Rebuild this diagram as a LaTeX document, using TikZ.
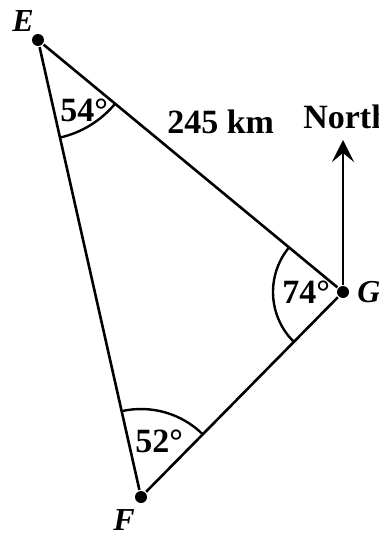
\documentclass[tikz,border=0pt]{standalone}
\usepackage{fontspec}
\setmainfont{Liberation Serif}
\usetikzlibrary{arrows.meta}
\begin{document}
\begin{tikzpicture}[x=1pt,y=-1pt, line width=2.6pt,
 lbl/.style={font=\fontsize{34}{34}\selectfont\bfseries, inner sep=0pt, anchor=base west},
 vtx/.style={font=\fontsize{32}{32}\selectfont\bfseries\itshape, inner sep=0pt, anchor=base west},
 dot/.style={circle, fill, inner sep=0pt, minimum size=12pt},
 side/.style={line width=2.6pt},
 anglearc/.style={line width=2.4pt}]
\useasboundingbox (0,0) rectangle (379,535);
\clip (0,0) rectangle (379,535);
\node[dot] (E) at (38,40) {};
\node[dot] (G) at (343,292) {};
\node[dot] (F) at (141,497) {};
\coordinate (N) at (343,140);
\draw[side] (E) -- (G);
\draw[side] (G) -- (F);
\draw[side] (F) -- (E);
\draw[side,-{Stealth[length=22pt,width=22pt,inset=9pt]}] (G) -- (N);
\draw[anglearc] ([shift={(39.6:100)}]E.center) arc[start angle=39.6,end angle=77.3,radius=100];
\draw[anglearc] ([shift={(134.6:70)}]G.center) arc[start angle=134.6,end angle=219.6,radius=70];
\draw[anglearc] ([shift={(-102.7:88)}]F.center) arc[start angle=-102.7,end angle=-45.4,radius=88];
\node[vtx] (lE) at (11,32) {E};
\node[vtx] (lG) at (356,302) {G};
\node[vtx] (lF) at (112,530) {F};
\node[lbl] (lN) at (302,128) {North};
\node[lbl] (lkm) at (166,133) {245 km};
\node[lbl] (a1) at (59,121) {54°};
\node[lbl] (a2) at (281,303) {74°};
\node[lbl] (a3) at (134,452) {52°};
\end{tikzpicture}
\end{document}
